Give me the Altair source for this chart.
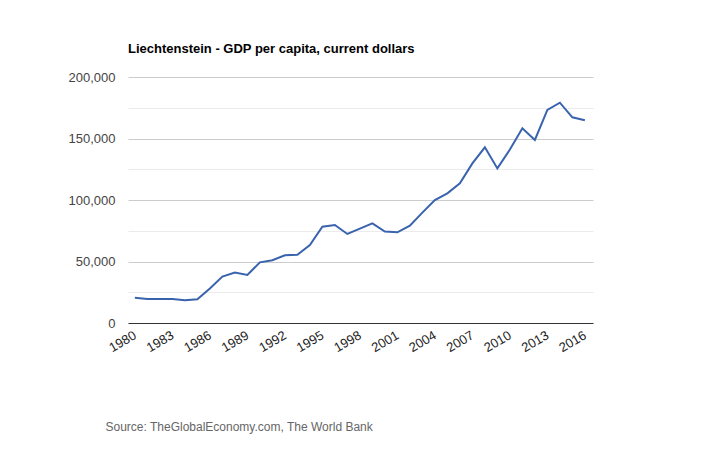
import altair as alt
import pandas as pd

years = list(range(1980, 2017))
gdp = [20600, 19500, 19500, 19500, 18400, 19300, 28000, 37700, 41000, 39000,
       49300, 51000, 55000, 55500, 63400, 78300, 79700, 72400, 76700, 81000,
       74300, 73700, 79100, 89700, 100000, 105400, 113500, 129800, 142800, 125700,
       141000, 158300, 148800, 173200, 179100, 167200, 164800]
x_ticks = [1980, 1983, 1986, 1989, 1992, 1995, 1998, 2001, 2004, 2007, 2010, 2013, 2016]
y_ticks = [0, 25000, 50000, 75000, 100000, 125000, 150000, 175000, 200000]

df = pd.DataFrame({"year": years, "gdp": gdp})

chart = alt.Chart(df).mark_line(color="#3a63ad", strokeWidth=2).encode(
    x=alt.X("year:Q",
            scale=alt.Scale(domain=[1979.45, 2016.65], nice=False, zero=False),
            axis=alt.Axis(values=x_ticks, format="d", labelAngle=330, labelAlign="right",
                          labelBaseline="middle", labelPadding=11, labelFontSize=13,
                          labelColor="#222222", labelFont="Liberation Sans",
                          ticks=False, grid=False, domainColor="#333333", domainWidth=1,
                          labelOverlap=False,
                          title="Source: TheGlobalEconomy.com, The World Bank",
                          titleAnchor="start", titleAlign="left", titleBaseline="alphabetic",
                          titleX=-23, titleY=107, titleFontSize=12, titleFontWeight="normal",
                          titleColor="#666666", titleFont="Liberation Sans")),
    y=alt.Y("gdp:Q",
            scale=alt.Scale(domain=[0, 200000], nice=False),
            axis=alt.Axis(values=y_ticks, ticks=False, domain=False, labelPadding=13,
                          labelFontSize=13, labelColor="#444444", labelFont="Liberation Sans",
                          labelExpr="datum.value % 50000 === 0 ? datum.label : ''",
                          gridColor={"condition": {"test": "datum.value % 50000 === 0",
                                                   "value": "#cccccc"},
                                     "value": "#ebebeb"},
                          title=None)),
).properties(
    width=465, height=246,
    autosize=alt.AutoSizeParams(type="none"),
    padding={"left": 120, "top": 69, "right": 119, "bottom": 119},
    title=alt.TitleParams("Liechtenstein - GDP per capita, current dollars",
                          anchor="start", frame="group", fontSize=13, fontWeight="bold",
                          font="Liberation Sans", color="#000000", offset=15),
).configure(background="white").configure_view(stroke=None)

chart.save("out.html", embed_options={"renderer": "svg", "actions": False})
